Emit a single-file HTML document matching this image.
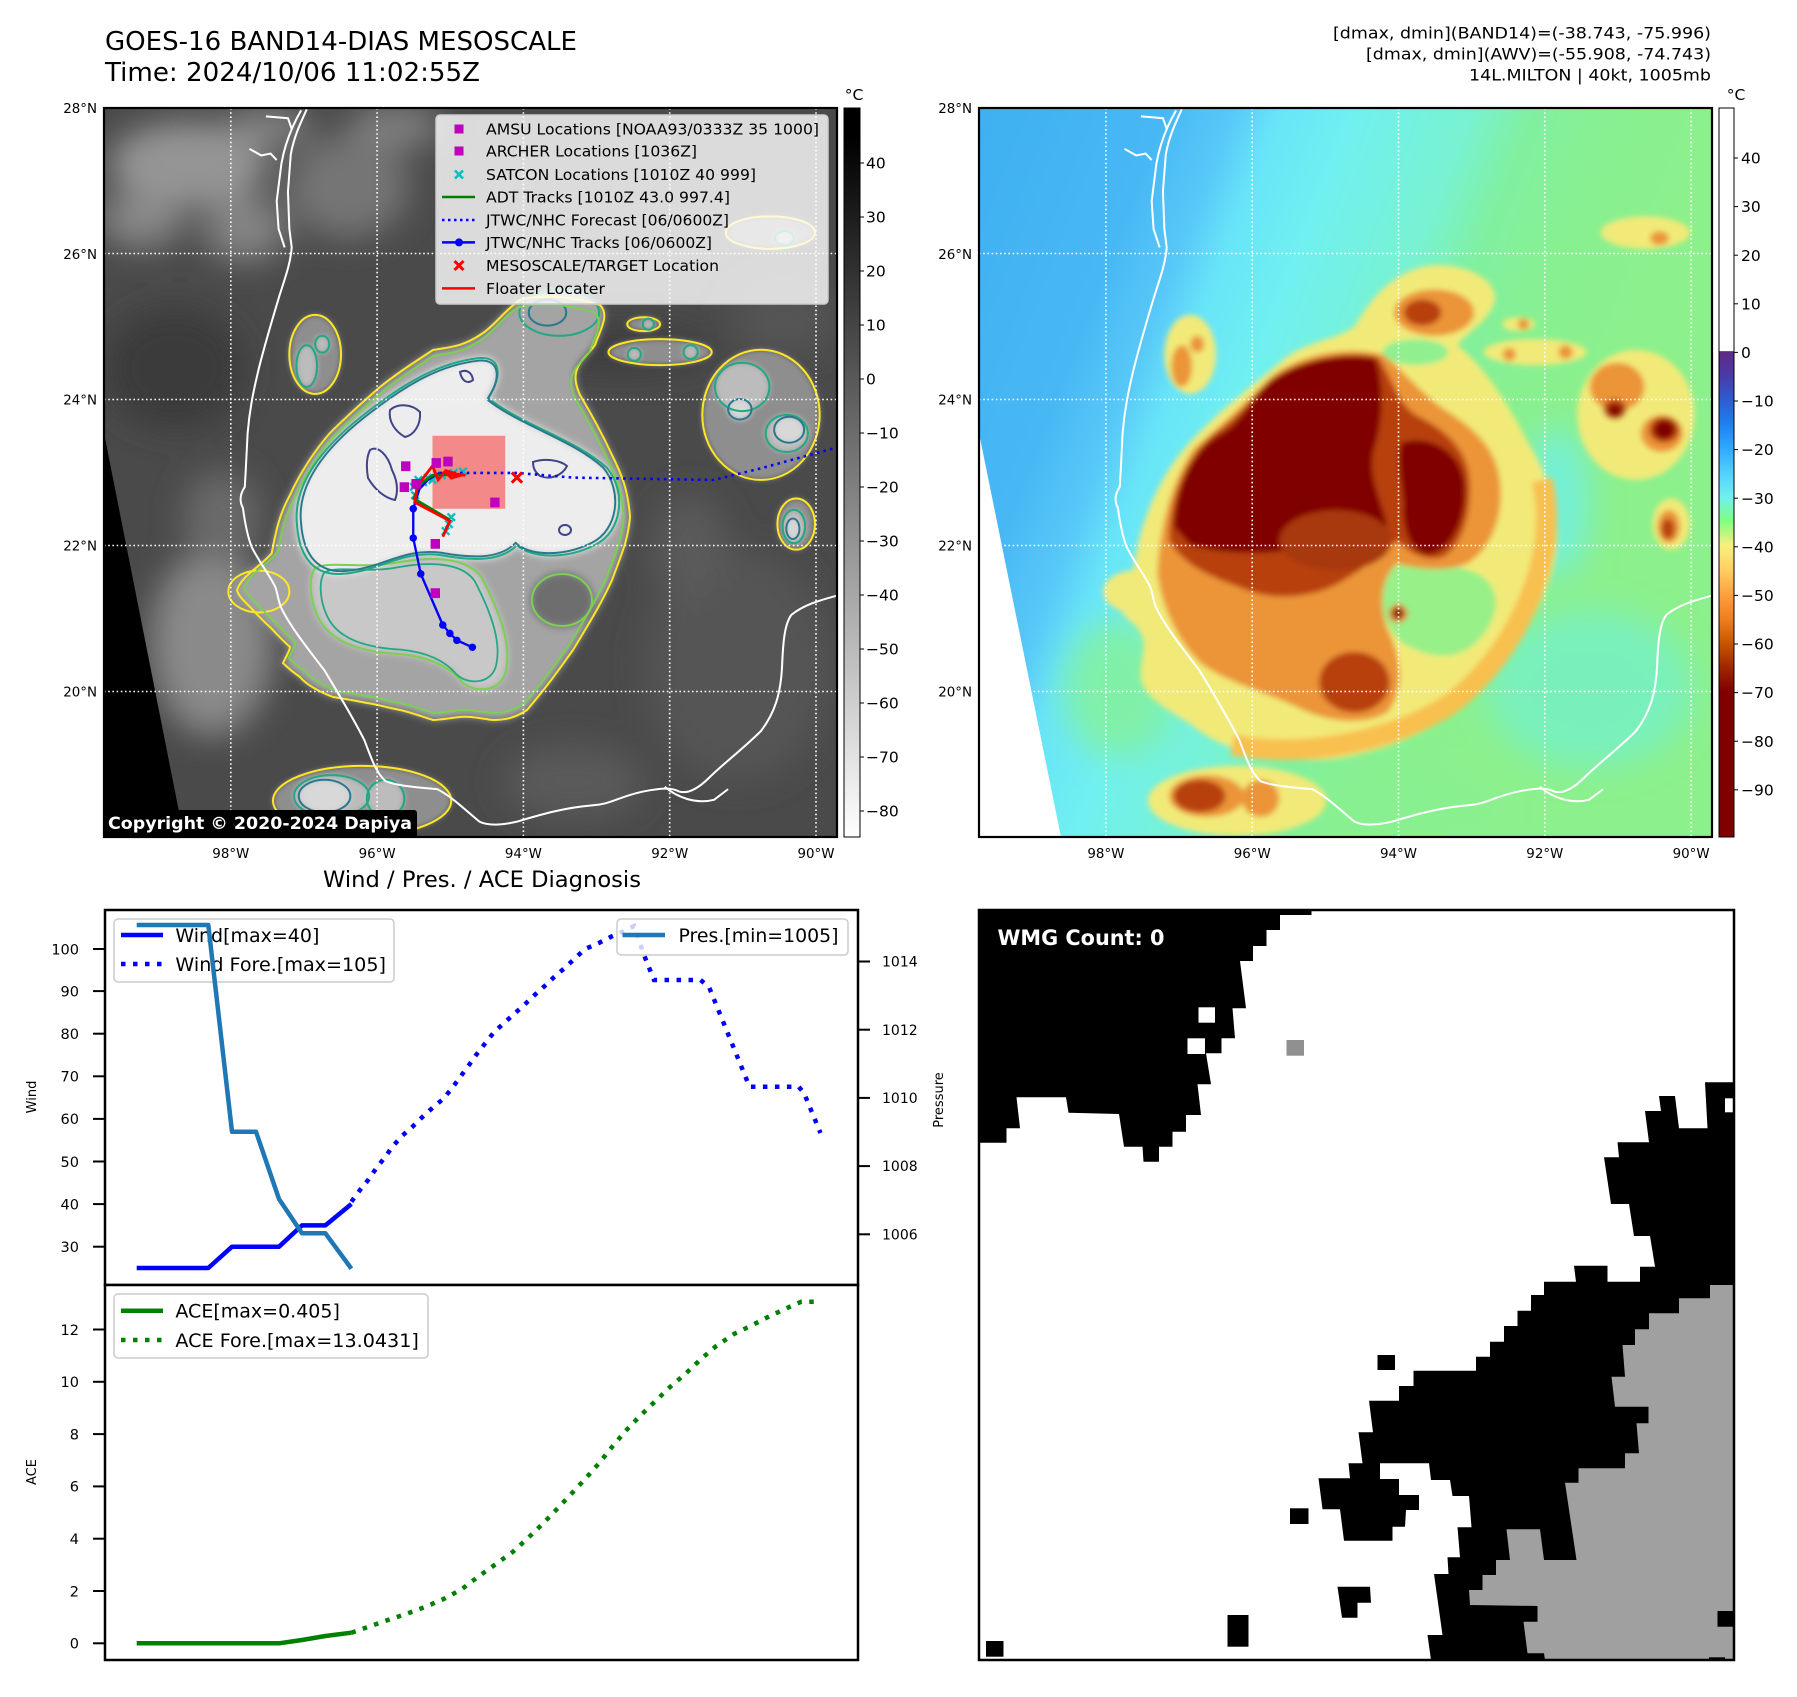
<!DOCTYPE html>
<html><head><meta charset="utf-8"><style>html,body{margin:0;padding:0;background:#fff}svg{display:block}</style></head>
<body>
<svg xmlns="http://www.w3.org/2000/svg" width="1797" height="1697" viewBox="0 0 1797 1697" font-family="'DejaVu Sans','Liberation Sans',sans-serif">
<defs>
<clipPath id="cL"><rect x="104" y="108" width="733" height="729"/></clipPath>
<clipPath id="cR"><rect x="979" y="108" width="733" height="729"/></clipPath>
<filter id="bS" x="-20%" y="-20%" width="140%" height="140%"><feGaussianBlur stdDeviation="6"/></filter>
<filter id="bS2" x="-20%" y="-20%" width="140%" height="140%"><feGaussianBlur stdDeviation="4"/></filter>
<filter id="bL" x="-60%" y="-60%" width="220%" height="220%"><feGaussianBlur stdDeviation="35"/></filter>
<linearGradient id="gL" x1="0" y1="0" x2="0" y2="1">
 <stop offset="0" stop-color="#000"/><stop offset="0.04" stop-color="#000"/><stop offset="1" stop-color="#fff"/>
</linearGradient>
<linearGradient id="gR" x1="0" y1="0" x2="0" y2="1">
 <stop offset="0" stop-color="#fff"/><stop offset="0.333" stop-color="#fff"/>
 <stop offset="0.334" stop-color="#5e2a84"/><stop offset="0.3667" stop-color="#4a3aa8"/>
 <stop offset="0.4" stop-color="#2e5cd0"/><stop offset="0.4333" stop-color="#1e80f0"/>
 <stop offset="0.4667" stop-color="#30a8ff"/><stop offset="0.5" stop-color="#50d0ff"/>
 <stop offset="0.5333" stop-color="#70f0f0"/><stop offset="0.5667" stop-color="#80ff80"/>
 <stop offset="0.6" stop-color="#f8f080"/><stop offset="0.6333" stop-color="#ffd060"/>
 <stop offset="0.6667" stop-color="#ffa040"/><stop offset="0.7" stop-color="#f08020"/>
 <stop offset="0.7333" stop-color="#c85800"/><stop offset="0.7667" stop-color="#a02800"/>
 <stop offset="0.8" stop-color="#800000"/><stop offset="1" stop-color="#800000"/>
</linearGradient>
<linearGradient id="bgR" gradientUnits="userSpaceOnUse" x1="979" y1="108" x2="1633" y2="359">
 <stop offset="0" stop-color="#3fb0f0"/><stop offset="0.25" stop-color="#48b8f5"/>
 <stop offset="0.34" stop-color="#58c8f8"/><stop offset="0.40" stop-color="#68e4f8"/>
 <stop offset="0.5" stop-color="#70f0f0"/><stop offset="0.66" stop-color="#78f2d0"/>
 <stop offset="0.74" stop-color="#80f0a0"/><stop offset="0.85" stop-color="#88f090"/>
 <stop offset="1" stop-color="#8cf08c"/>
</linearGradient>

<path id="shAm" d="M330,990 C340,900 380,800 440,730 C500,660 580,600 650,540 C700,500 760,500 800,470 C830,420 870,360 950,340 C1020,330 1100,360 1100,410 C1090,460 1040,480 1020,510 C1080,560 1130,640 1170,720 C1220,800 1250,900 1220,1000 C1190,1100 1130,1180 1060,1260 C990,1330 880,1380 760,1400 C640,1410 540,1390 470,1340 C420,1300 360,1280 345,1230 C340,1180 370,1150 330,1110 C290,1080 270,1030 330,990 Z"/>
<g id="shAx">
 <ellipse cx="1400" cy="660" rx="125" ry="140"/>
 <ellipse cx="1475" cy="895" rx="40" ry="55"/>
 <ellipse cx="1420" cy="268" rx="95" ry="35"/>
 <ellipse cx="450" cy="530" rx="55" ry="85"/>
 <ellipse cx="550" cy="1490" rx="190" ry="75"/>
 <ellipse cx="330" cy="1040" rx="65" ry="45"/>
 <ellipse cx="1185" cy="525" rx="110" ry="28"/>
 <ellipse cx="1150" cy="465" rx="35" ry="15"/>
</g>
<path id="shGap" d="M860,1000 C900,965 1000,975 1060,1000 C1120,1030 1110,1100 1060,1150 C1010,1195 950,1180 900,1150 C860,1110 840,1050 860,1000 Z"/>
<ellipse id="shGap2" cx="930" cy="525" rx="70" ry="28"/>
<path id="shBand" d="M540,1370 C700,1400 880,1360 1000,1285 C1100,1210 1165,1100 1195,990 C1210,930 1215,870 1200,800"/>
<path id="shBm" d="M380,1000 C385,900 410,800 460,730 C520,680 570,630 620,580 C680,530 780,510 860,530 C900,560 930,600 980,640 C1040,680 1100,720 1110,800 C1120,880 1090,950 1040,980 C990,1000 930,990 890,980 C860,1010 850,1060 870,1120 C900,1180 910,1250 870,1300 C820,1330 740,1320 680,1290 C620,1260 540,1240 480,1200 C430,1160 390,1080 380,1000 Z"/>
<g id="shBx">
 <ellipse cx="970" cy="440" rx="85" ry="50"/>
 <ellipse cx="1360" cy="600" rx="58" ry="52"/>
 <ellipse cx="1455" cy="700" rx="45" ry="40"/>
 <ellipse cx="1470" cy="900" rx="24" ry="36"/>
 <ellipse cx="485" cy="1480" rx="80" ry="45"/>
 <ellipse cx="600" cy="1485" rx="40" ry="40"/>
 <ellipse cx="432" cy="555" rx="22" ry="45"/>
 <ellipse cx="465" cy="508" rx="15" ry="18"/>
 <ellipse cx="1450" cy="280" rx="20" ry="15"/>
 <circle cx="1160" cy="465" r="12"/>
 <circle cx="1130" cy="530" r="14"/>
 <circle cx="1250" cy="525" r="15"/>
</g>
<path id="shCm" d="M405,930 C405,840 440,750 500,700 C560,660 580,620 620,585 C680,540 780,520 850,535 C880,580 890,630 930,660 C990,690 1040,730 1045,800 C1050,870 1030,940 990,965 C950,980 910,950 890,930 C860,960 820,990 770,1020 C720,1050 640,1060 580,1040 C500,1010 440,990 405,930 Z"/>
<ellipse id="shC2" cx="800" cy="1235" rx="75" ry="65"/>
<g id="shCx">
 <ellipse cx="945" cy="440" rx="40" ry="28"/>
 <ellipse cx="1355" cy="648" rx="25" ry="22"/>
 <ellipse cx="1460" cy="692" rx="32" ry="28"/>
 <ellipse cx="470" cy="1480" rx="55" ry="35"/>
 <ellipse cx="1468" cy="905" rx="14" ry="22"/>
</g>
<g id="shD">
 <path d="M415,900 C420,820 450,740 510,705 C560,680 575,630 620,590 C680,545 770,525 845,540 C865,600 860,680 840,740 C830,800 860,850 870,900 C820,940 750,950 680,950 C600,960 520,960 450,940 Z"/>
 <path d="M900,720 C960,700 1030,740 1035,810 C1040,880 1010,950 960,960 C920,960 900,900 905,850 C900,800 890,750 900,720 Z"/>
 <ellipse cx="1460" cy="692" rx="22" ry="20"/>
 <ellipse cx="1355" cy="650" rx="14" ry="12"/>
</g>
<g id="coast" fill="none" stroke="#fff" stroke-width="4.3">
 <path d="M432,3 C420,30 405,60 398,100 L392,180 L395,260 L400,300 C398,330 388,360 375,400 C360,450 345,500 330,560 C318,610 310,650 306,700 L302,780 L300,815 C290,830 288,845 296,860 C300,890 305,920 315,945 C330,975 350,1000 365,1030 C372,1050 370,1060 380,1080 C400,1120 440,1170 470,1210 C500,1260 530,1310 555,1360 C570,1400 580,1430 600,1448 C630,1460 680,1462 710,1465 C740,1480 770,1510 800,1535 C820,1545 850,1542 880,1535 C930,1520 980,1505 1040,1500 C1080,1498 1100,1480 1150,1470 C1190,1462 1210,1462 1225,1470 C1240,1475 1260,1470 1290,1440 C1320,1410 1360,1380 1400,1340 C1430,1300 1442,1260 1445,1200 C1447,1150 1450,1110 1465,1090 C1490,1070 1520,1060 1565,1048"/>
 <path d="M420,5 C400,40 385,80 378,120 L368,200 L372,260 L385,300"/>
 <path d="M310,88 L335,102 L355,98 L368,112"/>
 <path d="M345,18 L392,22 L400,45"/>
 <path d="M1195,1460 C1220,1482 1260,1498 1300,1488 L1330,1465"/>
</g>

<!-- left map storm, orig coords -->
<path id="pY" d="M271.7,553.3 C276,530 280,513 290,495 C300,473 315,450 330,433 C345,418 357,407 380,387 C395,375 407,367 433,350 C450,347 463,347 483,333 C495,325 505,310 520,300 C540,294 570,296 600,305 C610,315 600,330 595,345 C585,360 567,367 580,395 C595,420 605,440 612,455 C622,475 628,490 630,517 C628,540 622,553 612,580 C603,600 593,617 573,650 C560,668 550,683 527,710 C515,718 505,720 493,720 C478,718 470,716 460,717 C450,718 440,720 433,720 C420,716 410,712 400,710 C385,707 375,704 367,703 C352,700 340,698 333,697 C315,690 305,683 300,677 C290,670 285,665 283,663 C287,655 290,650 290,647 C282,640 275,632 270,627 C262,620 255,612 250,607 C243,600 238,595 237,590 C240,582 245,577 250,573 C258,566 266,560 271.7,553.3 Z"/>
<path id="pT" d="M297,525 C292,480 330,440 370,410 C405,383 440,362 480,358 C502,357 502,377 488,398 C522,425 577,440 607,468 C627,492 622,532 595,545 C565,560 530,558 517,545 C503,560 478,562 440,555 C400,550 380,572 340,574 C310,575 299,552 297,525 Z"/>
<path id="pS" d="M315,568 C332,560 362,570 400,562 C440,555 470,560 482,578 C497,607 512,642 506,670 C502,692 476,694 462,682 C450,667 430,657 400,654 C360,652 330,642 318,617 C310,600 308,578 315,568 Z"/>
</defs>

<!-- ===== Titles ===== -->
<text x="105" y="50" font-size="26" textLength="472" lengthAdjust="spacingAndGlyphs">GOES-16 BAND14-DIAS MESOSCALE</text>
<text x="105" y="81" font-size="26" textLength="375" lengthAdjust="spacingAndGlyphs">Time: 2024/10/06 11:02:55Z</text>
<g font-size="16" text-anchor="end">
<text x="1711" y="38.5" textLength="378" lengthAdjust="spacingAndGlyphs">[dmax, dmin](BAND14)=(-38.743, -75.996)</text>
<text x="1711" y="59.5" textLength="345" lengthAdjust="spacingAndGlyphs">[dmax, dmin](AWV)=(-55.908, -74.743)</text>
<text x="1711" y="80.5" textLength="242" lengthAdjust="spacingAndGlyphs">14L.MILTON | 40kt, 1005mb</text>
</g>

<!-- ===== LEFT MAP ===== -->
<g clip-path="url(#cL)">
 <rect x="104" y="108" width="733" height="729" fill="#4a4a4a"/>
 <g transform="translate(104,108) scale(0.46927,0.46492)">
  <g filter="url(#bL)">
   <ellipse cx="180" cy="120" rx="170" ry="90" fill="#959595"/>
   <ellipse cx="80" cy="240" rx="90" ry="60" fill="#888"/>
   <ellipse cx="300" cy="260" rx="90" ry="70" fill="#848484"/>
   <ellipse cx="520" cy="170" rx="130" ry="110" fill="#747474"/>
   <ellipse cx="620" cy="40" rx="100" ry="50" fill="#7e7e7e"/>
   <ellipse cx="350" cy="40" rx="90" ry="40" fill="#858585"/>
   <ellipse cx="150" cy="560" rx="150" ry="130" fill="#3a3a3a"/>
   <ellipse cx="1100" cy="520" rx="200" ry="50" fill="#3c3c3c"/>
   <ellipse cx="230" cy="1150" rx="130" ry="200" fill="#8a8a8a"/>
   <ellipse cx="250" cy="880" rx="80" ry="100" fill="#6a6a6a"/>
   <ellipse cx="1350" cy="1200" rx="200" ry="250" fill="#545454"/>
   <ellipse cx="1250" cy="950" rx="80" ry="120" fill="#5a5a5a"/>
   <ellipse cx="1000" cy="1450" rx="150" ry="80" fill="#5a5a5a"/>
   <ellipse cx="1450" cy="450" rx="110" ry="80" fill="#555"/>
  </g>
  <g filter="url(#bS)">
   <use href="#shAx" fill="#8e8e8e"/>
   <use href="#shBx" fill="#bcbcbc"/>
   <use href="#shCx" fill="#d8d8d8"/>
  </g>
 </g>
 <g filter="url(#bS2)">
  <use href="#pY" fill="#a4a4a4"/>
  <ellipse cx="562" cy="600" rx="32" ry="28" fill="#6e6e6e"/>
  <use href="#pS" fill="#c8c8c8"/>
  <use href="#pT" fill="#ededed"/>
 </g>
 <g transform="translate(104,108) scale(0.46927,0.46492)" fill="none" stroke-width="4.3">
  <use href="#shAx" stroke="#fde725"/>
  <use href="#shBx" stroke="#22a884"/>
  <use href="#shCx" stroke="#2a788e"/>
 </g>
 <g fill="none" stroke-width="2">
  <use href="#pY" stroke="#fde725"/>
  <use href="#pY" stroke="#7ad151" transform="translate(450,520) scale(0.965) translate(-450,-520)"/>
  <use href="#pS" stroke="#7ad151"/>
  <use href="#pS" stroke="#22a884" transform="translate(410,610) scale(0.9) translate(-410,-610)"/>
  <use href="#pT" stroke="#22a884"/>
  <use href="#pT" stroke="#2a788e" transform="translate(460,460) scale(0.975) translate(-460,-460)"/>
  <ellipse cx="562" cy="600" rx="30" ry="26" stroke="#7ad151"/>
  <g stroke="#414487">
   <path d="M390,410 C398,403 412,404 420,412 C421,425 414,435 405,437 C396,432 388,422 390,410 Z"/>
   <path d="M370,450 C378,445 388,455 392,470 C398,482 398,492 395,500 C385,498 375,490 368,478 C366,466 367,456 370,450 Z"/>
   <path d="M533,462 C545,458 560,460 567,466 C562,476 550,480 540,476 C535,472 533,468 533,462 Z"/>
   <ellipse cx="565" cy="530" rx="6" ry="5"/>
   <path d="M460,372 C466,369 472,372 473,380 C468,384 462,382 460,372 Z"/>
  </g>
 </g>
 <g transform="translate(104,108) scale(0.46927,0.46492)">
  <use href="#coast"/>
 </g>
 <polygon points="104,433 184,837 104,837" fill="#000"/>
 <g stroke="#fff" stroke-width="1.6" stroke-dasharray="1.6 2.6">
  <line x1="230.8" y1="108" x2="230.8" y2="837"/><line x1="377.1" y1="108" x2="377.1" y2="837"/>
  <line x1="523.4" y1="108" x2="523.4" y2="837"/><line x1="669.7" y1="108" x2="669.7" y2="837"/>
  <line x1="816" y1="108" x2="816" y2="837"/>
  <line x1="104" y1="253.5" x2="837" y2="253.5"/><line x1="104" y1="399.5" x2="837" y2="399.5"/>
  <line x1="104" y1="545.5" x2="837" y2="545.5"/><line x1="104" y1="691.5" x2="837" y2="691.5"/>
 </g>
 <g transform="translate(104,108) scale(0.46927,0.46492)">
  <rect x="700" y="705" width="155" height="157" fill="#ff0000" fill-opacity="0.42"/>
  <g stroke="#00bfbf" stroke-width="5">
   <path d="M652,807 l16,16 m0,-16 l-16,16 M662,792 l16,16 m0,-16 l-16,16 M682,787 l16,16 m0,-16 l-16,16 M712,782 l16,16 m0,-16 l-16,16 M737,777 l16,16 m0,-16 l-16,16 M757,774 l16,16 m0,-16 l-16,16 M672,797 l16,16 m0,-16 l-16,16 M692,792 l16,16 m0,-16 l-16,16 M727,887 l16,16 m0,-16 l-16,16 M720,902 l16,16 m0,-16 l-16,16 M732,872 l16,16 m0,-16 l-16,16 M655,825 l16,16 m0,-16 l-16,16"/>
  </g>
  <path d="M715,785 L880,785 L1000,795 L1300,800 L1400,775 L1570,728" fill="none" stroke="#0000ff" stroke-width="5.5" stroke-dasharray="5.5 9"/>
  <path d="M785,1160 L752,1145 L737,1130 L722,1112 L675,1002 L659,925 L659,862 L672,820 L690,800 L715,785" fill="none" stroke="#0000ff" stroke-width="5"/>
  <g fill="#0000ff">
   <circle cx="785" cy="1160" r="8"/><circle cx="752" cy="1145" r="8"/><circle cx="737" cy="1130" r="8"/>
   <circle cx="722" cy="1112" r="8"/><circle cx="675" cy="1002" r="8"/><circle cx="659" cy="925" r="8"/><circle cx="659" cy="862" r="8"/>
  </g>
  <path d="M736,885 L660,840 L672,810 L700,790 L765,788" fill="none" stroke="#008000" stroke-width="5.5"/>
  <path d="M722,922 L737,888 L662,848 L668,812 L700,770 L712,800 L728,780 L760,790 L740,796 L730,785 L770,790" fill="none" stroke="#ff0000" stroke-width="6"/>
  <g fill="#bf00bf">
   <rect x="633" y="760" width="20" height="21"/><rect x="630" y="805" width="20" height="21"/>
   <rect x="655" y="798" width="20" height="21"/><rect x="698" y="753" width="20" height="21"/>
   <rect x="723" y="750" width="20" height="21"/><rect x="823" y="838" width="20" height="21"/>
   <rect x="696" y="927" width="20" height="21"/><rect x="696" y="1033" width="20" height="21"/>
  </g>
  <path d="M869,784 l22,22 m0,-22 l-22,22" stroke="#ff0000" stroke-width="6.5"/>
 </g>
 <!-- legend -->
 <rect x="436" y="115" width="392" height="189" rx="4" fill="#fff" fill-opacity="0.8" stroke="#cccccc" stroke-width="1.5"/>
 <rect x="454.5" y="124.5" width="9" height="9" fill="#bf00bf"/>
 <rect x="454.5" y="146.5" width="9" height="9" fill="#bf00bf"/>
 <path d="M455,170.5 l8,8 m0,-8 l-8,8" stroke="#00bfbf" stroke-width="2.5"/>
 <line x1="442" y1="197" x2="475" y2="197" stroke="#008000" stroke-width="2.5"/>
 <line x1="442" y1="220" x2="475" y2="220" stroke="#0000ff" stroke-width="2.5" stroke-dasharray="2.5 3.5"/>
 <line x1="442" y1="242.4" x2="475" y2="242.4" stroke="#0000ff" stroke-width="2.5"/>
 <circle cx="459" cy="242.4" r="4" fill="#0000ff"/>
 <path d="M454.5,261 l9,9 m0,-9 l-9,9" stroke="#ff0000" stroke-width="3"/>
 <line x1="442" y1="288.4" x2="475" y2="288.4" stroke="#ff0000" stroke-width="2.5"/>
 <g font-size="15.5">
  <text x="486" y="134.5" textLength="333" lengthAdjust="spacingAndGlyphs">AMSU Locations [NOAA93/0333Z 35 1000]</text>
  <text x="486" y="156.5" textLength="211" lengthAdjust="spacingAndGlyphs">ARCHER Locations [1036Z]</text>
  <text x="486" y="180" textLength="270" lengthAdjust="spacingAndGlyphs">SATCON Locations [1010Z 40 999]</text>
  <text x="486" y="202.5" textLength="244" lengthAdjust="spacingAndGlyphs">ADT Tracks [1010Z 43.0 997.4]</text>
  <text x="486" y="225.5" textLength="243" lengthAdjust="spacingAndGlyphs">JTWC/NHC Forecast [06/0600Z]</text>
  <text x="486" y="248" textLength="226" lengthAdjust="spacingAndGlyphs">JTWC/NHC Tracks [06/0600Z]</text>
  <text x="486" y="271" textLength="233" lengthAdjust="spacingAndGlyphs">MESOSCALE/TARGET Location</text>
  <text x="486" y="294" textLength="119" lengthAdjust="spacingAndGlyphs">Floater Locater</text>
 </g>
</g>
<rect x="104" y="108" width="733" height="729" fill="none" stroke="#000" stroke-width="2.2"/>
<rect x="103" y="810" width="314" height="28" rx="3" fill="#000"/>
<text x="108" y="829" font-size="16.5" font-weight="bold" fill="#fff" textLength="304" lengthAdjust="spacingAndGlyphs">Copyright © 2020-2024 Dapiya</text>

<!-- left colorbar -->
<rect x="844" y="108" width="16" height="729" fill="url(#gL)" stroke="#000" stroke-width="1"/>
<text x="854" y="100" font-size="15.5" text-anchor="middle">°C</text>
<g stroke="#000" stroke-width="1">
 <line x1="860" y1="163" x2="864" y2="163"/><line x1="860" y1="217" x2="864" y2="217"/><line x1="860" y1="271" x2="864" y2="271"/>
 <line x1="860" y1="325" x2="864" y2="325"/><line x1="860" y1="379" x2="864" y2="379"/><line x1="860" y1="433" x2="864" y2="433"/>
 <line x1="860" y1="487" x2="864" y2="487"/><line x1="860" y1="541" x2="864" y2="541"/><line x1="860" y1="595" x2="864" y2="595"/>
 <line x1="860" y1="649" x2="864" y2="649"/><line x1="860" y1="703" x2="864" y2="703"/><line x1="860" y1="757" x2="864" y2="757"/>
 <line x1="860" y1="811" x2="864" y2="811"/>
</g>
<g font-size="15.5">
 <text x="866" y="168.6">40</text><text x="866" y="222.6">30</text><text x="866" y="276.6">20</text>
 <text x="866" y="330.6">10</text><text x="866" y="384.6">0</text><text x="866" y="438.6">−10</text>
 <text x="866" y="492.6">−20</text><text x="866" y="546.6">−30</text><text x="866" y="600.6">−40</text>
 <text x="866" y="654.6">−50</text><text x="866" y="708.6">−60</text><text x="866" y="762.6">−70</text>
 <text x="866" y="816.6">−80</text>
</g>

<!-- map tick labels -->
<g font-size="13.4" text-anchor="end">
 <text x="97" y="113">28°N</text><text x="97" y="259">26°N</text><text x="97" y="404.5">24°N</text>
 <text x="97" y="550.5">22°N</text><text x="97" y="696.5">20°N</text>
 <text x="972" y="113">28°N</text><text x="972" y="259">26°N</text><text x="972" y="404.5">24°N</text>
 <text x="972" y="550.5">22°N</text><text x="972" y="696.5">20°N</text>
</g>
<g font-size="13.4" text-anchor="middle">
 <text x="230.8" y="858">98°W</text><text x="377.1" y="858">96°W</text><text x="523.4" y="858">94°W</text>
 <text x="669.7" y="858">92°W</text><text x="816" y="858">90°W</text>
 <text x="1105.9" y="858">98°W</text><text x="1252.2" y="858">96°W</text><text x="1398.5" y="858">94°W</text>
 <text x="1544.8" y="858">92°W</text><text x="1691.1" y="858">90°W</text>
</g>

<!-- ===== RIGHT MAP ===== -->
<g clip-path="url(#cR)">
 <rect x="979" y="108" width="733" height="729" fill="url(#bgR)"/>
 <g transform="translate(979,108) scale(0.46927,0.46492)">
  <g filter="url(#bL)">
   <ellipse cx="1300" cy="1250" rx="220" ry="170" fill="#74f0c8" fill-opacity="0.8"/>
   <ellipse cx="1230" cy="850" rx="70" ry="160" fill="#74f0d8"/>
   <ellipse cx="300" cy="1250" rx="120" ry="150" fill="#80f0a8"/>
   <ellipse cx="900" cy="1500" rx="200" ry="60" fill="#88f090"/>
  </g>
  <g filter="url(#bS)">
   <use href="#shAm" fill="#f2ea78"/>
   <use href="#shAx" fill="#f2ea78"/>
   <use href="#shGap" fill="#98f088"/>
   <use href="#shGap2" fill="#90f090"/>
   <use href="#shBand" fill="none" stroke="#f8c050" stroke-width="45"/>
   <use href="#shBm" fill="#eb9438"/>
   <use href="#shBx" fill="#eb9438"/>
   <use href="#shCm" fill="#b84010"/>
   <use href="#shC2" fill="#b84010"/>
   <use href="#shCx" fill="#b84010"/>
   <use href="#shD" fill="#800000"/>
   <ellipse cx="760" cy="930" rx="120" ry="65" fill="#a83808"/>
   <circle cx="893" cy="1087" r="20" fill="#e08030"/>
   <circle cx="893" cy="1087" r="11" fill="#800000"/>
  </g>
  <use href="#coast"/>
 </g>
 <polygon points="979,433 1061,837 979,837" fill="#fff"/>
 <g stroke="#fff" stroke-width="1.6" stroke-dasharray="1.6 2.6">
  <line x1="1105.9" y1="108" x2="1105.9" y2="837"/><line x1="1252.2" y1="108" x2="1252.2" y2="837"/>
  <line x1="1398.5" y1="108" x2="1398.5" y2="837"/><line x1="1544.8" y1="108" x2="1544.8" y2="837"/>
  <line x1="1691.1" y1="108" x2="1691.1" y2="837"/>
  <line x1="979" y1="253.5" x2="1712" y2="253.5"/><line x1="979" y1="399.5" x2="1712" y2="399.5"/>
  <line x1="979" y1="545.5" x2="1712" y2="545.5"/><line x1="979" y1="691.5" x2="1712" y2="691.5"/>
 </g>
</g>
<rect x="979" y="108" width="733" height="729" fill="none" stroke="#000" stroke-width="2.2"/>

<!-- right colorbar -->
<rect x="1719" y="108" width="15" height="729" fill="url(#gR)" stroke="#000" stroke-width="1"/>
<text x="1736" y="100" font-size="15.5" text-anchor="middle">°C</text>
<g stroke="#000" stroke-width="1">
 <line x1="1734" y1="158" x2="1738" y2="158"/><line x1="1734" y1="206.6" x2="1738" y2="206.6"/>
 <line x1="1734" y1="255.2" x2="1738" y2="255.2"/><line x1="1734" y1="303.8" x2="1738" y2="303.8"/>
 <line x1="1734" y1="352.4" x2="1738" y2="352.4"/><line x1="1734" y1="401" x2="1738" y2="401"/>
 <line x1="1734" y1="449.6" x2="1738" y2="449.6"/><line x1="1734" y1="498.2" x2="1738" y2="498.2"/>
 <line x1="1734" y1="546.8" x2="1738" y2="546.8"/><line x1="1734" y1="595.4" x2="1738" y2="595.4"/>
 <line x1="1734" y1="644" x2="1738" y2="644"/><line x1="1734" y1="692.6" x2="1738" y2="692.6"/>
 <line x1="1734" y1="741.2" x2="1738" y2="741.2"/><line x1="1734" y1="789.8" x2="1738" y2="789.8"/>
</g>
<g font-size="15.5">
 <text x="1741" y="163.6">40</text><text x="1741" y="212.2">30</text><text x="1741" y="260.8">20</text>
 <text x="1741" y="309.4">10</text><text x="1741" y="358">0</text><text x="1741" y="406.6">−10</text>
 <text x="1741" y="455.2">−20</text><text x="1741" y="503.8">−30</text><text x="1741" y="552.4">−40</text>
 <text x="1741" y="601">−50</text><text x="1741" y="649.6">−60</text><text x="1741" y="698.2">−70</text>
 <text x="1741" y="746.8">−80</text><text x="1741" y="795.4">−90</text>
</g>

<!-- ===== WIND / PRES / ACE ===== -->
<text x="482" y="887" font-size="22.5" text-anchor="middle" textLength="318" lengthAdjust="spacingAndGlyphs">Wind / Pres. / ACE Diagnosis</text>
<rect x="105" y="910" width="753" height="375" fill="#fff"/>
<polyline points="136.7,1268 208.3,1268 232,1246.7 279,1246.7 302,1225.4 325.4,1225.4 351.4,1204" fill="none" stroke="#0000ff" stroke-width="4.5" stroke-linejoin="round"/>
<polyline points="351.4,1201.7 360,1190 368.7,1179.3 376.2,1168.3 384.9,1157.3 393,1146 402.7,1135.3 412.5,1126.7 422.4,1117 432.7,1107.7 443.1,1099 452.4,1087.7 460.4,1076.7 468.5,1065.7 476.6,1054.3 485.2,1043.3 493.9,1032.3 503.7,1023.3 514.1,1014 524.5,1004.7 534.3,995.3 544.7,986 554.5,976.7 565.5,967.3 575.3,958 585.1,949 598.3,943.3 611.1,936.7 622.6,931.7 634.1,926 644,955 654,980 700.5,980 709,987 749.5,1086.7 798.6,1086.7 804,1093 820.5,1133" fill="none" stroke="#0000ff" stroke-width="4.5" stroke-dasharray="4.5 7.5"/>
<rect x="114" y="919" width="280" height="63" rx="4" fill="#fff" fill-opacity="0.8" stroke="#cccccc" stroke-width="1.5"/>
<line x1="121" y1="935" x2="163" y2="935" stroke="#0000ff" stroke-width="4.5"/>
<line x1="121" y1="964" x2="163" y2="964" stroke="#0000ff" stroke-width="4.5" stroke-dasharray="4.5 7.5"/>
<text x="175.4" y="942" font-size="19" textLength="144" lengthAdjust="spacingAndGlyphs">Wind[max=40]</text>
<text x="175.4" y="971" font-size="19" textLength="210.6" lengthAdjust="spacingAndGlyphs">Wind Fore.[max=105]</text>
<polyline points="136.7,925 208.3,925 232,1131.7 256,1131.7 279,1199 302,1233.3 325.4,1233.3 351.4,1268.7" fill="none" stroke="#1f77b4" stroke-width="4.5" stroke-linejoin="round"/>
<rect x="617" y="919" width="231" height="36" rx="4" fill="#fff" fill-opacity="0.8" stroke="#cccccc" stroke-width="1.5"/>
<line x1="622.5" y1="935" x2="665" y2="935" stroke="#1f77b4" stroke-width="4.5"/>
<text x="678.5" y="942" font-size="19" textLength="160" lengthAdjust="spacingAndGlyphs">Pres.[min=1005]</text>
<rect x="105" y="910" width="753" height="375" fill="none" stroke="#000" stroke-width="2.5"/>
<g stroke="#000" stroke-width="2">
 <line x1="93" y1="949" x2="105" y2="949"/><line x1="93" y1="991.1" x2="105" y2="991.1"/><line x1="93" y1="1033.7" x2="105" y2="1033.7"/>
 <line x1="93" y1="1076.3" x2="105" y2="1076.3"/><line x1="93" y1="1118.9" x2="105" y2="1118.9"/><line x1="93" y1="1161.5" x2="105" y2="1161.5"/>
 <line x1="93" y1="1204.1" x2="105" y2="1204.1"/><line x1="93" y1="1246.7" x2="105" y2="1246.7"/>
 <line x1="858" y1="961.5" x2="870" y2="961.5"/><line x1="858" y1="1029.7" x2="870" y2="1029.7"/>
 <line x1="858" y1="1097.9" x2="870" y2="1097.9"/><line x1="858" y1="1166.1" x2="870" y2="1166.1"/>
 <line x1="858" y1="1234.3" x2="870" y2="1234.3"/>
</g>
<g font-size="14.5" text-anchor="end">
 <text x="79" y="954.3">100</text><text x="79" y="996.4">90</text><text x="79" y="1039">80</text>
 <text x="79" y="1081.6">70</text><text x="79" y="1124.2">60</text><text x="79" y="1166.8">50</text>
 <text x="79" y="1209.4">40</text><text x="79" y="1252">30</text>
</g>
<g font-size="14">
 <text x="882" y="966.6">1014</text><text x="882" y="1034.8">1012</text><text x="882" y="1103">1010</text>
 <text x="882" y="1171.2">1008</text><text x="882" y="1239.4">1006</text>
</g>
<text transform="translate(36,1097) rotate(-90)" font-size="13" text-anchor="middle">Wind</text>
<text transform="translate(943,1100) rotate(-90)" font-size="13" text-anchor="middle">Pressure</text>

<rect x="105" y="1285" width="753" height="375" fill="#fff"/>
<polyline points="136.7,1643.3 279,1643.3 302,1640 325.4,1636 351.4,1632.7" fill="none" stroke="#008000" stroke-width="4.5" stroke-linejoin="round"/>
<polyline points="351.4,1632.7 365.8,1627.7 385,1621 406,1614 425,1607 443.7,1599 462,1589 479.5,1575.7 496,1564 513,1551.7 528,1538 543.5,1523 557,1509 571.8,1493.3 586,1478 599.5,1462.7 612,1447 625.5,1431 640,1416 655.5,1401 670,1387 686,1373.3 701,1359 716.6,1345.7 734,1334 752.4,1325 770,1316 790,1306.7 801.4,1301.7 819,1301.7" fill="none" stroke="#008000" stroke-width="4.5" stroke-dasharray="4.5 7.5"/>
<rect x="114" y="1294" width="314" height="64" rx="4" fill="#fff" fill-opacity="0.8" stroke="#cccccc" stroke-width="1.5"/>
<line x1="121" y1="1310.7" x2="163" y2="1310.7" stroke="#008000" stroke-width="4.5"/>
<line x1="121" y1="1340" x2="163" y2="1340" stroke="#008000" stroke-width="4.5" stroke-dasharray="4.5 7.5"/>
<text x="175.4" y="1317.7" font-size="19" textLength="164.5" lengthAdjust="spacingAndGlyphs">ACE[max=0.405]</text>
<text x="175.4" y="1347" font-size="19" textLength="243.5" lengthAdjust="spacingAndGlyphs">ACE Fore.[max=13.0431]</text>
<rect x="105" y="1285" width="753" height="375" fill="none" stroke="#000" stroke-width="2.5"/>
<g stroke="#000" stroke-width="2">
 <line x1="93" y1="1329.5" x2="105" y2="1329.5"/><line x1="93" y1="1381.8" x2="105" y2="1381.8"/>
 <line x1="93" y1="1434.1" x2="105" y2="1434.1"/><line x1="93" y1="1486.4" x2="105" y2="1486.4"/>
 <line x1="93" y1="1538.7" x2="105" y2="1538.7"/><line x1="93" y1="1591" x2="105" y2="1591"/>
 <line x1="93" y1="1643.3" x2="105" y2="1643.3"/>
</g>
<g font-size="14.5" text-anchor="end">
 <text x="79" y="1334.8">12</text><text x="79" y="1387.1">10</text><text x="79" y="1439.4">8</text>
 <text x="79" y="1491.7">6</text><text x="79" y="1544">4</text><text x="79" y="1596.3">2</text>
 <text x="79" y="1648.6">0</text>
</g>
<text transform="translate(36,1472) rotate(-90)" font-size="13" text-anchor="middle">ACE</text>

<!-- ===== WMG panel ===== -->
<rect x="979" y="910" width="755" height="750" fill="#fff"/>
<polygon fill="#000" points="979,910 1311.5,910 1311.5,915 1280,915 1280,930 1266.5,930 1266.5,946 1253,946 1253,961 1240,961 1246,1008.3 1232.5,1008.3 1235,1038.3 1221.5,1038.3 1221.5,1053.3 1206,1053.3 1211,1084.3 1197.5,1084.3 1201,1115 1186,1115 1186,1131.7 1172.5,1131.7 1172.5,1146.7 1159,1146.7 1159,1161.7 1143.5,1161.7 1142.5,1146.7 1124,1146.7 1119,1114 1068.5,1112.7 1066,1097.3 1016.5,1097.3 1020,1128.3 1006.5,1128.3 1006.5,1142.7 979,1142.7"/>
<rect x="1198.5" y="1007.3" width="16.5" height="15.4" fill="#fff"/>
<rect x="1187.5" y="1038.3" width="17.5" height="15.7" fill="#fff"/>
<rect x="1286.5" y="1040" width="17.5" height="15.7" fill="#909090"/>
<polygon fill="#000" points="1733,1082.3 1705,1082.3 1707.5,1128.3 1679,1128.3 1675,1096 1659,1096 1661,1111 1645,1111 1649,1142.3 1617.5,1142.3 1619,1157.3 1604,1157.3 1611,1204 1629,1204 1634,1236 1650,1236 1655,1266.7 1640,1266.7 1640,1281.7 1607.5,1281.7 1607.5,1265.7 1574,1265.7 1576,1281.7 1544,1281.7 1544,1295 1531,1295 1531,1310.7 1517.5,1310.7 1517.5,1326 1504,1326 1504,1341.7 1490,1341.7 1490,1356.7 1476,1356.7 1476,1370.7 1413.5,1370.7 1413.5,1386 1399,1386 1399,1400.7 1369,1400.7 1373,1432.3 1358.5,1432.3 1362.5,1463.3 1348.5,1463.3 1350,1478.3 1318.5,1478.3 1322.5,1509.3 1340,1509.3 1344,1540.7 1392.5,1540.7 1392.5,1526.7 1405,1526.7 1406,1510 1419,1510 1419,1495 1399,1495 1399,1479 1380,1479 1380,1463.3 1429,1463.3 1431,1480 1450,1480 1452.5,1496 1469,1496 1471.5,1527.3 1457.5,1527.3 1460,1557.3 1447.5,1557.3 1448.5,1574 1434,1574 1442.5,1635 1427.5,1635 1431,1660 1733,1660"/>
<rect x="1725" y="1098.3" width="8" height="14" fill="#fff"/>
<polygon fill="#a0a0a0" points="1710,1285 1733,1285 1733,1660 1545,1660 1544,1653.3 1527.5,1653.3 1523.5,1621.7 1537.5,1621.7 1537.5,1606 1470,1605 1469,1590 1482.5,1590 1482.5,1575 1496,1575 1496,1560 1510,1560 1506.5,1529.3 1540,1529.3 1544,1560 1576.5,1560 1565,1482.7 1578.5,1482.7 1578.5,1468.3 1625,1468.3 1625,1453.3 1639,1453.3 1636.5,1423.3 1648.5,1423.3 1648.5,1406.7 1615,1406.7 1611.5,1376.7 1625,1376.7 1622.5,1345 1635,1345 1635,1329.3 1649,1329.3 1649,1313.3 1679,1313.3 1679,1298.3 1710,1298.3"/>
<rect x="1717.5" y="1611" width="15.5" height="15.7" fill="#000"/>
<rect x="1709" y="1657.3" width="16" height="3" fill="#000"/>
<rect x="1377.5" y="1355" width="17.5" height="15" fill="#000"/>
<rect x="1290" y="1508.3" width="18.5" height="15.7" fill="#000"/>
<polygon fill="#000" points="1337.5,1586.7 1370,1586.7 1371,1602.7 1357.5,1602.7 1357.5,1617.7 1342,1617.7"/>
<rect x="1227.5" y="1615" width="21" height="31.7" fill="#000"/>
<rect x="986" y="1641" width="17.5" height="15.7" fill="#000"/>
<text x="997.5" y="945" font-size="21" font-weight="bold" fill="#fff" textLength="167" lengthAdjust="spacingAndGlyphs">WMG Count: 0</text>
<rect x="979" y="910" width="755" height="750" fill="none" stroke="#000" stroke-width="2.5"/>
</svg>
</body></html>
